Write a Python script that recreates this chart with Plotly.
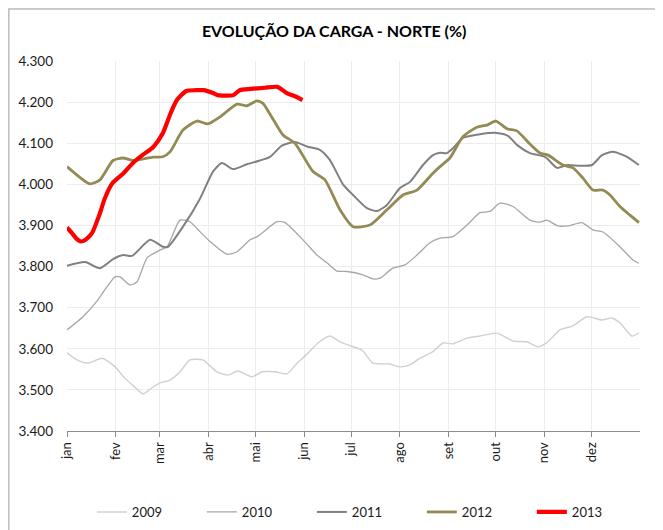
import plotly.graph_objects as go

months = ["jan", "fev", "mar", "abr", "mai", "jun", "jul", "ago", "set", "out", "nov", "dez"]
month_start_day = [0, 31, 59, 90, 120, 151, 181, 212, 243, 273, 304, 334]

d2009 = [0, 6.4, 13.4, 22.3, 30.6, 36.9, 42, 48.4, 54.1, 59.2, 65.6, 72, 78.3, 86.6, 89.2, 95.5, 102.5, 108.9,
         117.8, 124.2, 132.5, 140.1, 146.5, 152.9, 159.9, 167.5, 173.9, 182.2, 187.9, 194.9, 205.7, 212.1, 218.5,
         224.8, 233.1, 239.5, 245.9, 254.8, 263.1, 273.9, 284.1, 293, 300, 305.7, 314, 322.3, 331.2, 340.8, 347.1,
         352.2, 359.9, 364.3]
v2009 = [3590, 3573, 3565, 3577, 3556, 3528, 3511, 3490, 3505, 3517, 3524, 3544, 3573, 3573, 3565, 3544, 3536, 3546,
         3532, 3544, 3544, 3539, 3565, 3587, 3614, 3631, 3617, 3605, 3597, 3565, 3563, 3556, 3561,
         3577, 3593, 3614, 3612, 3626, 3631, 3638, 3619, 3617, 3605, 3615, 3646, 3656, 3678, 3670, 3675,
         3663, 3631, 3639]

d2010 = [0, 10.2, 19.7, 25.5, 30.6, 33.8, 40.1, 44.6, 51, 59.2, 63.7, 72, 78.3, 84.7, 91.1, 101.9, 108.3, 116.6,
         121.7, 133.8, 138.9, 150.3, 159.2, 165.6, 172, 178.3, 188.5, 194.9, 199.4, 207.6, 215.3, 222.9, 231.2,
         237.6, 245.9, 254.8, 263.1, 269.4, 275.8, 284.1, 294.9, 301.3, 305.7, 312.7, 319.1, 328, 335, 341.4,
         352.2, 360.5, 364.3]
v2010 = [3646, 3678, 3719, 3751, 3775, 3775, 3755, 3763, 3821, 3840, 3848, 3913, 3909, 3885, 3861, 3830, 3836, 3865,
         3874, 3909, 3907, 3865, 3828, 3809, 3789, 3788, 3780, 3770, 3772, 3796, 3804, 3828, 3858,
         3869, 3873, 3901, 3931, 3934, 3954, 3946, 3913, 3908, 3913, 3899, 3899, 3907, 3889, 3884,
         3848, 3816, 3808]

d2011 = [0, 11.5, 21, 29.3, 35.7, 41.4, 52.9, 61.1, 64.3, 73.9, 84.7, 93, 98.7, 105.7, 114.6, 122.9, 129.3, 136.9,
         145.2, 152.9, 161.1, 167.5, 175.8, 182.2, 191.1, 197.5, 203.8, 212.1, 218.5, 226.8, 233.1, 237.6, 242,
         245.9, 252.2, 263.1, 273.9, 280.9, 286.6, 294.9, 304.5, 312.1, 318.5, 326.8, 334.4, 340.8, 347.8, 356.7,
         364.3]
v2011 = [3802, 3811, 3796, 3818, 3828, 3826, 3865, 3848, 3848, 3897, 3965, 4031, 4052, 4037, 4049, 4058, 4067, 4094,
         4103, 4092, 4084, 4059, 4000, 3974, 3942, 3935, 3950, 3991, 4006, 4047, 4071, 4077, 4076,
         4088, 4113, 4122, 4125, 4118, 4096, 4076, 4067, 4040, 4047, 4045, 4047, 4071, 4079, 4067,
         4047]

d2012 = [0, 14.6, 21, 29.3, 35.7, 42, 54.8, 61.1, 65.6, 73.9, 82.8, 89.8, 97.5, 108.3, 114.6, 121, 124.8, 131,
         137.6, 145.2, 156.7, 164.3, 173.9, 182.2, 193, 203.8, 214, 222.9, 233.1, 237.6, 243.9, 252.2, 261.1,
         267.5, 273.2, 280.3, 286.6, 294.9, 301.3, 306.4, 315.9, 322.3, 328.7, 335, 341.4, 345.9, 352.2, 358.6,
         364.3]
v2012 = [4043, 4001, 4011, 4058, 4064, 4058, 4066, 4067, 4079, 4132, 4154, 4147, 4164, 4195, 4191, 4203, 4197, 4160,
         4120, 4100, 4031, 4011, 3938, 3897, 3901, 3938, 3974, 3986, 4027, 4043, 4064, 4116, 4139,
         4144, 4154, 4135, 4130, 4098, 4076, 4071, 4047, 4040, 4015, 3986, 3986, 3974, 3946, 3925,
         3907]

d2013 = [0, 3, 6, 9, 12, 16, 21, 24, 29, 36, 42, 48, 55, 61, 66, 70, 76, 82, 87, 93, 96, 106, 110, 117, 126, 134,
         140, 146, 150]
v2013 = [3895, 3882, 3868, 3861, 3866, 3882, 3930, 3965, 4003, 4027, 4052, 4071, 4091, 4124, 4173, 4205, 4227, 4229,
         4229, 4222, 4217, 4217, 4229, 4232, 4235, 4237, 4222, 4213, 4205]

series = [
    ("2009", d2009, v2009, "#d0d0d0", 1.4),
    ("2010", d2010, v2010, "#a6a6a6", 1.3),
    ("2011", d2011, v2011, "#808080", 2.0),
    ("2012", d2012, v2012, "#948a54", 2.8),
    ("2013", d2013, v2013, "#ff0000", 4.2),
]

FONT = "Lato"
fig = go.Figure()
for name, d, v, color, w in series:
    fig.add_trace(go.Scatter(x=d, y=v, mode="lines", name=name,
                             line=dict(color=color, width=w, shape="spline", smoothing=0.6)))

# chart frame (white box with grey border over a light grey page)
fig.add_shape(type="rect", xref="paper", yref="paper", x0=-0.1015, x1=1.0297, y0=-0.4, y1=1.1405,
              fillcolor="white", line=dict(color="#bdbdbd", width=1.5), layer="below")

fig.update_layout(
    width=655, height=522,
    margin=dict(l=59, r=23, t=53, b=99),
    paper_bgcolor="#f2f2f2", plot_bgcolor="white",
    separators=",.",
    font=dict(family=FONT, size=13, color="#1a1a1a"),
    title=dict(text="<b>EVOLUÇÃO DA CARGA - NORTE (%)</b>", x=0.498, xref="container", xanchor="center",
               y=0.956, yref="container", yanchor="middle", font=dict(family=FONT, size=16, color="#000")),
    xaxis=dict(range=[0, 365], tickmode="array", tickvals=month_start_day, ticktext=months,
               tickangle=-90, showgrid=True, gridcolor="#ececec", gridwidth=1,
               showline=True, linecolor="#8c8c8c", linewidth=1, ticks="outside", ticklen=5,
               tickcolor="#8c8c8c", zeroline=False, tickfont=dict(size=13), automargin=False),
    yaxis=dict(range=[3400, 4300], tickmode="array", tickvals=[3400 + 100 * i for i in range(10)],
               tickformat=",.0f", showgrid=True, gridcolor="#ececec", gridwidth=1, zeroline=False,
               showline=False, ticks="", ticklabelstandoff=13, tickfont=dict(size=13.5), automargin=False),
    legend=dict(orientation="h", xref="container", x=0.128, xanchor="left",
                yref="container", y=0.0345, yanchor="middle",
                itemwidth=30, entrywidth=65, entrywidthmode="pixels", font=dict(size=13),
                bgcolor="rgba(0,0,0,0)"),
    showlegend=True,
)

fig.write_html("out.html")
